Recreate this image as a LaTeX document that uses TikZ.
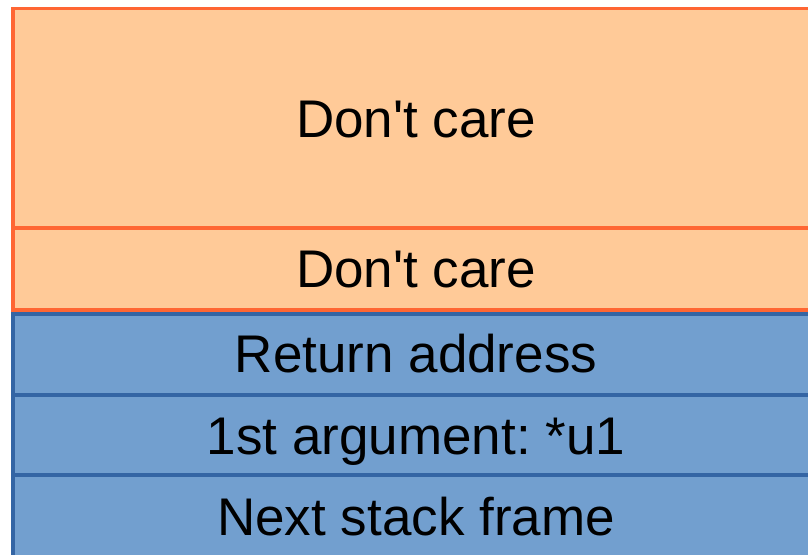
\documentclass[tikz,border=0pt]{standalone}
\usepackage{fontspec}
\setmainfont{Liberation Sans}
\frenchspacing
\definecolor{slotfill}{HTML}{FFCA98}
\definecolor{slotline}{HTML}{FF6633}
\definecolor{framefill}{HTML}{729FCF}
\definecolor{frameline}{HTML}{3465A4}
\tikzset{
  slot/.style={draw=slotline, fill=slotfill, line width=3.5pt, rectangle,
    anchor=north west, minimum width=806pt, inner sep=0pt, outer sep=0pt},
  framecell/.style={draw=frameline, fill=framefill, line width=3.5pt, rectangle,
    anchor=north west, minimum width=806pt, inner sep=0pt, outer sep=0pt},
  celltext/.style={anchor=base, inner sep=0pt, font=\fontsize{53}{62}\selectfont}
}
\begin{document}
\begin{tikzpicture}[x=1pt, y=-1pt]
  \useasboundingbox (0,0) rectangle (808,554);
  \clip (0,0) rectangle (808,554);
  % unused stack slots
  \node[slot, minimum height=219.5pt] (dc1) at (13,8.5) {};
  \node[slot, minimum height=82pt] (dc2) at (13,228) {};
  % caller's frame
  \node[framecell, minimum height=81pt] (ret) at (13,314) {};
  \node[framecell, minimum height=80pt] (arg) at (13,395) {};
  \node[framecell, minimum height=90pt] (next) at (13,475) {};
  % labels
  \node[celltext] (t1) at (416,137.7) {Don\textquotesingle t care};
  \node[celltext] (t2) at (416,287.7) {Don\textquotesingle t care};
  \node[celltext] (t3) at (416,372.7) {Return address};
  \node[celltext] (t4) at (416,454.3) {1st argument: *u1};
  \node[celltext] (t5) at (416,535) {Next stack frame};
\end{tikzpicture}
\end{document}
